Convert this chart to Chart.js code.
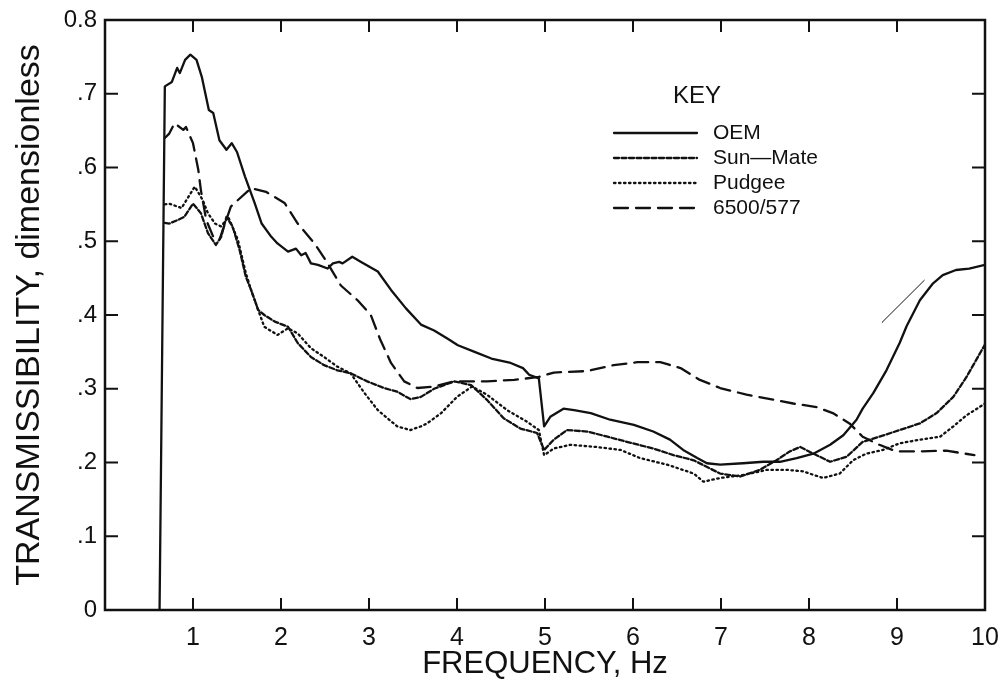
<!DOCTYPE html>
<html>
<head>
<meta charset="utf-8">
<script src="https://cdn.jsdelivr.net/npm/chart.js@4.4.1/dist/chart.umd.min.js"></script>
<style>
    body { margin: 0; background: #fff; }
    #chart { display: block; }
</style>
</head>
<body>
<canvas id="chart" width="1002" height="685"></canvas>
<script>
// Значения (частота, Гц / передаточное отношение)
const oemHz = [
    0.62, 0.68, 0.76, 0.82, 0.85, 0.91, 0.97, 1.04, 1.10, 1.18,
    1.23, 1.30, 1.38, 1.44, 1.50, 1.59, 1.70, 1.78, 1.89, 1.96,
    2.08, 2.17, 2.23, 2.28, 2.34, 2.42, 2.53, 2.59, 2.66, 2.70,
    2.81, 2.91, 3.10, 3.25, 3.42, 3.59, 3.74, 3.89, 4.01, 4.20,
    4.39, 4.61, 4.75, 4.82, 4.93, 4.99, 5.06, 5.21, 5.33, 5.52,
    5.74, 6.01, 6.23, 6.42, 6.57, 6.73, 6.84, 6.99, 7.25, 7.48,
    7.67, 7.86, 8.05, 8.24, 8.39, 8.54, 8.61, 8.73, 8.88, 9.03,
    9.11, 9.26, 9.41, 9.52, 9.67, 9.82, 10.0
];
const oemT = [
    0, 0.710, 0.716, 0.735, 0.728, 0.746, 0.753, 0.746, 0.723, 0.678,
    0.674, 0.637, 0.624, 0.633, 0.621, 0.588, 0.552, 0.524, 0.506, 0.497,
    0.486, 0.490, 0.481, 0.484, 0.470, 0.468, 0.463, 0.470, 0.472, 0.470,
    0.479, 0.472, 0.459, 0.434, 0.409, 0.387, 0.379, 0.368, 0.359, 0.350,
    0.341, 0.335, 0.328, 0.319, 0.314, 0.249, 0.262, 0.273, 0.271, 0.267,
    0.258, 0.251, 0.242, 0.231, 0.217, 0.206, 0.199, 0.197, 0.199, 0.201,
    0.201, 0.206, 0.212, 0.224, 0.237, 0.258, 0.273, 0.294, 0.325, 0.362,
    0.385, 0.420, 0.443, 0.454, 0.461, 0.463, 0.468
];

const sunHz = [
    0.68, 0.73, 0.83, 0.90, 1.00, 1.09, 1.17, 1.26, 1.32, 1.38,
    1.45, 1.53, 1.60, 1.66, 1.74, 1.81, 1.93, 2.08, 2.19, 2.34,
    2.49, 2.64, 2.79, 2.98, 3.17, 3.32, 3.47, 3.59, 3.74, 3.97,
    4.16, 4.34, 4.53, 4.72, 4.91, 4.99, 5.10, 5.25, 5.48, 5.71,
    5.93, 6.23, 6.46, 6.69, 6.99, 7.22, 7.44, 7.63, 7.78, 7.90,
    8.05, 8.24, 8.43, 8.61, 8.80, 9.03, 9.26, 9.45, 9.64, 9.79,
    10.0
];
const sunT = [
    0.525, 0.524, 0.529, 0.533, 0.551, 0.538, 0.511, 0.495, 0.506, 0.533,
    0.520, 0.488, 0.452, 0.434, 0.407, 0.400, 0.391, 0.384, 0.362, 0.343,
    0.332, 0.325, 0.321, 0.310, 0.301, 0.296, 0.286, 0.289, 0.300, 0.310,
    0.305, 0.285, 0.260, 0.246, 0.240, 0.217, 0.231, 0.244, 0.242, 0.235,
    0.228, 0.219, 0.210, 0.203, 0.185, 0.181, 0.190, 0.203, 0.215, 0.221,
    0.212, 0.201, 0.208, 0.228, 0.235, 0.244, 0.253, 0.267, 0.289, 0.316,
    0.360
];

const pudHz = [
    0.68, 0.73, 0.87, 1.02, 1.11, 1.17, 1.25, 1.32, 1.40, 1.51,
    1.60, 1.66, 1.74, 1.81, 1.96, 2.08, 2.19, 2.34, 2.49, 2.64,
    2.79, 2.95, 3.10, 3.32, 3.47, 3.59, 3.66, 3.82, 4.00, 4.17,
    4.34, 4.57, 4.80, 4.93, 4.99, 5.10, 5.29, 5.59, 5.86, 6.08,
    6.39, 6.69, 6.80, 6.99, 7.25, 7.52, 7.75, 7.93, 8.16, 8.35,
    8.50, 8.65, 8.84, 9.03, 9.26, 9.49, 9.64, 9.79, 10.0
];
const pudT = [
    0.550, 0.551, 0.545, 0.574, 0.556, 0.538, 0.524, 0.520, 0.533, 0.502,
    0.457, 0.434, 0.407, 0.384, 0.373, 0.382, 0.375, 0.355, 0.343, 0.330,
    0.321, 0.294, 0.271, 0.249, 0.244, 0.249, 0.253, 0.267, 0.289, 0.303,
    0.292, 0.271, 0.255, 0.244, 0.210, 0.219, 0.224, 0.221, 0.217, 0.206,
    0.197, 0.185, 0.174, 0.179, 0.183, 0.190, 0.190, 0.188, 0.179, 0.185,
    0.203, 0.212, 0.217, 0.226, 0.231, 0.235, 0.249, 0.264, 0.280
];

const altHz = [
    0.68, 0.73, 0.79, 0.89, 0.92, 1.00, 1.06, 1.09, 1.15, 1.23,
    1.30, 1.43, 1.53, 1.66, 1.83, 2.04, 2.19, 2.38, 2.51, 2.68,
    2.87, 3.02, 3.13, 3.25, 3.40, 3.55, 3.74, 3.97, 4.34, 4.65,
    4.93, 5.10, 5.48, 5.78, 6.05, 6.31, 6.54, 6.76, 6.99, 7.29,
    7.56, 7.82, 8.09, 8.27, 8.46, 8.61, 8.80, 8.99, 9.22, 9.56,
    9.88
];
const altT = [
    0.640, 0.646, 0.660, 0.651, 0.655, 0.633, 0.597, 0.569, 0.529, 0.506,
    0.502, 0.547, 0.558, 0.572, 0.567, 0.552, 0.524, 0.497, 0.474, 0.440,
    0.420, 0.400, 0.366, 0.335, 0.310, 0.301, 0.303, 0.310, 0.310, 0.312,
    0.316, 0.322, 0.324, 0.332, 0.336, 0.336, 0.328, 0.312, 0.301, 0.292,
    0.286, 0.280, 0.275, 0.267, 0.253, 0.235, 0.224, 0.215, 0.215, 0.216,
    0.210
];

// тонкий штрих на оригинале у 9 Гц
const strayHz = [8.83, 9.31];
const strayT = [0.390, 0.447];

const xTicks = [0, 1, 2, 3, 4, 5, 6, 7, 8, 9, 10];
const yTickLabels = ["0", ".1", ".2", ".3", ".4", ".5", ".6", ".7", "0.8"];
const legendLabels = ["OEM", "Sun\u2014Mate", "Pudgee", "6500/577"];

function toPoints(xs, ys) {
    return xs.map((x, i) => ({ x: x, y: ys[i] }));
}

const INK = "#111";

function series(label, xs, ys, dash, width) {
    return {
        label: label,
        data: toPoints(xs, ys),
        borderColor: INK,
        borderWidth: width,
        borderDash: dash,
        borderCapStyle: "round",
        borderJoinStyle: "round",
        pointRadius: 0,
        fill: false,
        tension: 0,
    };
}

// Рамка, внутренние засечки и легенда "KEY"
const framePlugin = {
    id: "frame",
    afterDraw(chart) {
        const { ctx, chartArea: a, scales } = chart;
        const xs = scales.x, ys = scales.y;
        ctx.save();
        ctx.strokeStyle = INK;
        ctx.lineWidth = 2.5;
        ctx.setLineDash([]);
        ctx.strokeRect(a.left, a.top, a.right - a.left, a.bottom - a.top);

        ctx.lineWidth = 2;
        ctx.beginPath();
        for (let v = 1; v <= 7; v++) {
            const py = ys.getPixelForValue(v / 10);
            ctx.moveTo(a.left, py); ctx.lineTo(a.left + 13, py);
            ctx.moveTo(a.right, py); ctx.lineTo(a.right - 13, py);
        }
        for (let v = 1; v <= 9; v++) {
            const px = xs.getPixelForValue(v);
            ctx.moveTo(px, a.bottom); ctx.lineTo(px, a.bottom - 12);
            ctx.moveTo(px, a.top); ctx.lineTo(px, a.top + 12);
        }
        ctx.stroke();

        // легенда
        ctx.fillStyle = INK;
        ctx.font = "24px 'Liberation Sans', Arial, sans-serif";
        ctx.textBaseline = "middle";
        ctx.textAlign = "center";
        ctx.fillText("KEY", 697, 96);
        ctx.textAlign = "left";
        const rows = [133, 158, 183, 208];
        chart.data.datasets.slice(0, 4).forEach((ds, i) => {
            ctx.lineWidth = ds.borderWidth;
            ctx.lineCap = "round";
            ctx.setLineDash(ds.borderDash || []);
            ctx.beginPath();
            ctx.moveTo(614, rows[i]);
            ctx.lineTo(697, rows[i]);
            ctx.stroke();
            ctx.setLineDash([]);
            ctx.font = "21px 'Liberation Sans', Arial, sans-serif";
            ctx.fillText(legendLabels[i], 713, rows[i]);
        });
        ctx.restore();
    },
};

new Chart(document.getElementById("chart"), {
    type: "line",
    data: {
        datasets: [
            series(legendLabels[0], oemHz, oemT, [], 2.3),
            series(legendLabels[1], sunHz, sunT, [5, 2.5], 2.3),
            series(legendLabels[2], pudHz, pudT, [1.5, 3.5], 2.3),
            series(legendLabels[3], altHz, altT, [14, 8], 2.3),
            series("", strayHz, strayT, [], 1),
        ],
    },
    options: {
        responsive: false,
        animation: false,
        layout: { padding: { left: 0, top: 20, right: 17, bottom: 0 } },
        plugins: {
            legend: { display: false },
            tooltip: { enabled: false },
        },
        scales: {
            x: {
                type: "linear",
                min: 0,
                max: 10,
                afterFit: (s) => { s.height = 75; s.paddingLeft = 0; s.paddingRight = 0; },
                afterBuildTicks: (s) => { s.ticks = xTicks.map((v) => ({ value: v })); },
                grid: { display: false, drawTicks: false },
                border: { display: false },
                ticks: {
                    padding: 13,
                    color: INK,
                    font: { family: "'Liberation Sans Narrow', 'Liberation Sans', sans-serif", size: 25 },
                    callback: (v) => (v === 0 ? "" : String(v)),
                },
                title: {
                    display: true,
                    text: "FREQUENCY, Hz",
                    color: INK,
                    font: { family: "'Liberation Sans', sans-serif", size: 31 },
                    padding: { top: 0, bottom: 2 },
                },
            },
            y: {
                type: "linear",
                min: 0,
                max: 0.8,
                afterFit: (s) => { s.width = 105; s.paddingTop = 0; s.paddingBottom = 0; },
                afterBuildTicks: (s) => { s.ticks = yTickLabels.map((t, i) => ({ value: i / 10 })); },
                grid: { display: false, drawTicks: false },
                border: { display: false },
                ticks: {
                    padding: 8,
                    color: INK,
                    font: { family: "'Liberation Sans', sans-serif", size: 24 },
                    callback: (v, i) => yTickLabels[i],
                },
                title: {
                    display: true,
                    text: "TRANSMISSIBILITY, dimensionless",
                    color: INK,
                    font: { family: "'Liberation Sans', sans-serif", size: 34 },
                    padding: { top: 9, bottom: 0 },
                },
            },
        },
    },
    plugins: [framePlugin],
});
</script>
</body>
</html>
